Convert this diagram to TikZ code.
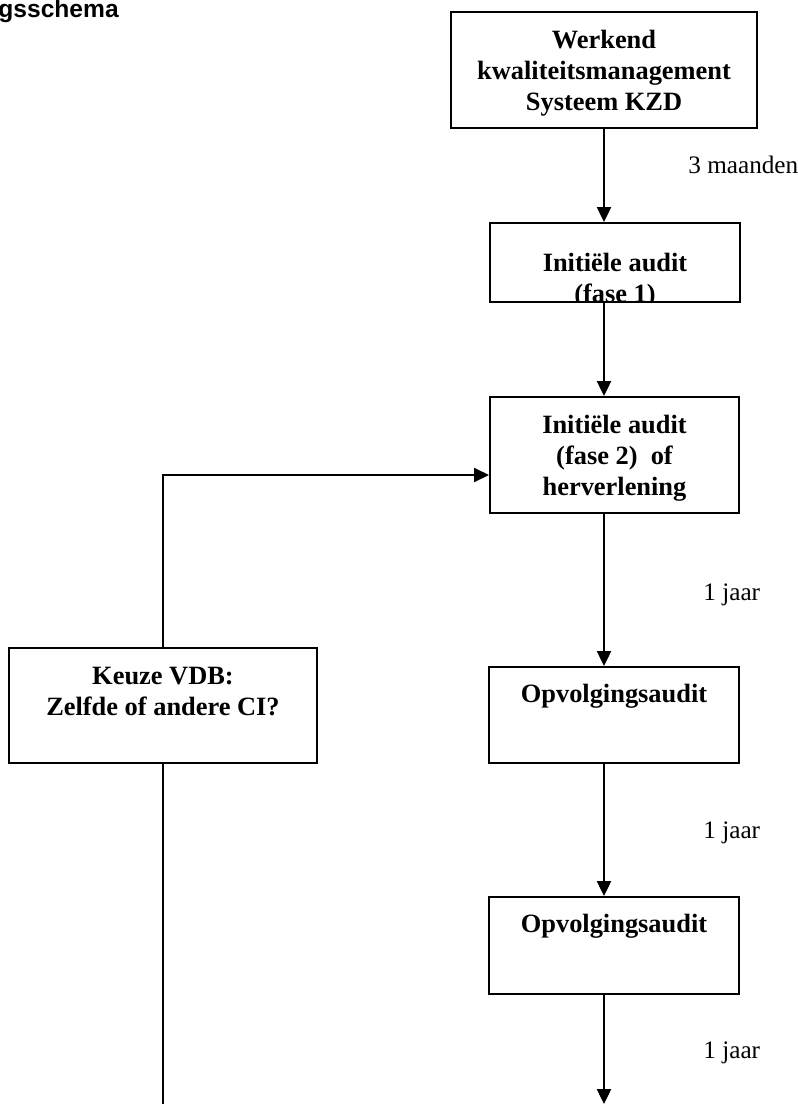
\documentclass[tikz,border=0pt]{standalone}
\usepackage{fontspec}
\setmainfont{Liberation Serif}
\newfontfamily\headfont{Liberation Sans}
\usetikzlibrary{arrows.meta}
\newcommand{\boxtxt}[4]{\parbox[c][#2][t]{#1}{\centering\rule{0pt}{#3}#4}}

\begin{document}
\begin{tikzpicture}[x=0.5pt,y=-0.5pt,
    blk/.style={draw, line width=1pt, inner sep=0pt, font=\bfseries\fontsize{13.2}{15.5}\selectfont},
    flow/.style={line width=1.2pt, -{Triangle[length=7.5pt,width=7pt]}},
    tlbl/.style={anchor=base west, inner sep=0pt, font=\fontsize{12.6}{15}\selectfont}]
    \useasboundingbox (0,0) rectangle (798,1104);
    \node[anchor=base west, inner sep=0pt, font=\headfont\bfseries\fontsize{12.3}{14}\selectfont] (kop) at (-2,17) {gsschema};
    \node[blk] (werkend) at (604,70) {\boxtxt{153pt}{58pt}{18pt}{Werkend\\kwaliteitsmanagement\\Systeem KZD}};
    \node[blk, minimum width=125pt, minimum height=39.5pt,
        path picture={\node[draw=none, inner sep=0pt, anchor=north, font=\bfseries\fontsize{13.2}{15.5}\selectfont]
            at (path picture bounding box.north) {\boxtxt{125pt}{39.5pt}{23.5pt}{Initiële audit\\(fase 1)}};}] (fase1) at (615,262.5) {};
    \node[blk] (fase2) at (614.5,455) {\boxtxt{124.5pt}{58pt}{18pt}{Initiële audit\\(fase 2)\ \ of\\herverlening}};
    \node[blk] (keuze) at (163,705.5) {\boxtxt{154pt}{57.5pt}{18pt}{Keuze VDB:\\Zelfde of andere CI?}};
    \node[blk] (opv1) at (614,715) {\boxtxt{125pt}{48pt}{17.5pt}{Opvolgingsaudit}};
    \node[blk] (opv2) at (614,945.5) {\boxtxt{125pt}{48.5pt}{17.5pt}{Opvolgingsaudit}};
    \draw[flow] (werkend.south) -- (werkend.south |- fase1.north);
    \draw[flow] (werkend.south |- fase1.south) -- (werkend.south |- fase2.north);
    \draw[flow] (werkend.south |- fase2.south) -- (werkend.south |- opv1.north);
    \draw[flow] (werkend.south |- opv1.south) -- (werkend.south |- opv2.north);
    \coordinate (eindr) at (604,1104);
    \draw[flow] (werkend.south |- opv2.south) -- (werkend.south |- eindr);
    \coordinate (eindl) at (163,1104);
    \draw[line width=1pt] (keuze.south) -- (eindl);
    \draw[flow, line width=1pt] (keuze.north) |- ([yshift=-10pt]fase2.west);
    \node[tlbl] (drie) at (688,173) {3 maanden};
    \node[tlbl] (jaar1) at (703,600) {1 jaar};
    \node[tlbl] (jaar2) at (703,838) {1 jaar};
    \node[tlbl] (jaar3) at (703,1058) {1 jaar};
\end{tikzpicture}
\end{document}
